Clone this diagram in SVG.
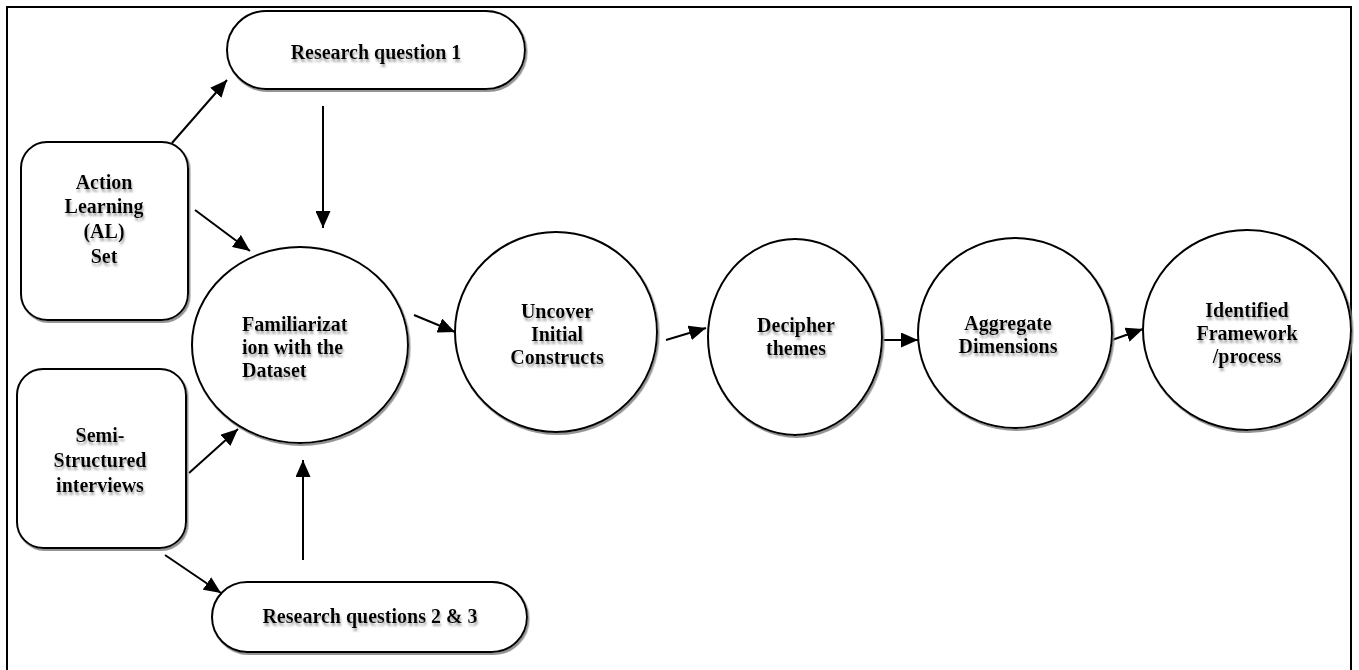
<svg xmlns="http://www.w3.org/2000/svg" width="1359" height="670" viewBox="0 0 1359 670">
<style>
.shape{fill:#fff;stroke:#000;stroke-width:2;filter:url(#sh)}
.t{font-family:"Liberation Serif","DejaVu Serif",serif;font-weight:bold;font-size:20px;fill:#000;text-anchor:middle;filter:url(#tsh)}
.l{text-anchor:start}
.c{stroke:#000;stroke-width:2;fill:none;marker-end:url(#ah)}
</style>
<defs>
<filter id="sh" x="-10%" y="-10%" width="125%" height="125%">
<feDropShadow dx="1.5" dy="2" stdDeviation="0.6" flood-color="#888" flood-opacity="0.9"/>
</filter>
<filter id="tsh" x="-10%" y="-20%" width="125%" height="160%">
<feDropShadow dx="1" dy="3" stdDeviation="0.8" flood-color="#999" flood-opacity="0.85"/>
</filter>
<marker id="ah" markerUnits="userSpaceOnUse" markerWidth="18" markerHeight="15" refX="17" refY="7.5" orient="auto">
<path d="M0,0 L17,7.5 L0,15 z" fill="#000"/>
</marker>
</defs>
<rect x="7" y="7" width="1344" height="690" fill="#fff" stroke="#000" stroke-width="2"/>
<g id="connectors">
<line class="c" x1="172" y1="143" x2="227" y2="80"/>
<line class="c" x1="323" y1="106" x2="323" y2="228"/>
<line class="c" x1="195" y1="210" x2="250" y2="251"/>
<line class="c" x1="189" y1="473" x2="238" y2="429"/>
<line class="c" x1="165" y1="555" x2="221" y2="593"/>
<line class="c" x1="303" y1="560" x2="303" y2="460"/>
<line class="c" x1="414" y1="315" x2="455" y2="332"/>
<line class="c" x1="666" y1="340" x2="706" y2="328"/>
<line class="c" x1="883" y1="340" x2="918" y2="340"/>
<line class="c" x1="1112" y1="340" x2="1143" y2="329"/>
</g>
<g id="rq1">
<rect class="shape" x="227" y="11" width="298" height="78" rx="39" ry="39"/>
<text class="t" x="376" y="59">Research question 1</text>
</g>
<g id="al">
<rect class="shape" x="21" y="142" width="167" height="178" rx="26" ry="26"/>
<text class="t" x="104" y="189">Action</text>
<text class="t" x="104" y="213">Learning</text>
<text class="t" x="104" y="238">(AL)</text>
<text class="t" x="104" y="263">Set</text>
</g>
<g id="semi">
<rect class="shape" x="17" y="369" width="169" height="179" rx="26" ry="26"/>
<text class="t" x="100" y="442">Semi-</text>
<text class="t" x="100" y="467">Structured</text>
<text class="t" x="100" y="492">interviews</text>
</g>
<g id="rq2">
<rect class="shape" x="212" y="582" width="315" height="70" rx="35" ry="35"/>
<text class="t" x="370" y="623">Research questions 2 &amp; 3</text>
</g>
<g id="fam">
<ellipse class="shape" cx="300" cy="345" rx="108" ry="98"/>
<text class="t l" x="242" y="331">Familiarizat</text>
<text class="t l" x="242" y="354">ion with the</text>
<text class="t l" x="242" y="377">Dataset</text>
</g>
<g id="uncover">
<ellipse class="shape" cx="556" cy="332" rx="101" ry="100"/>
<text class="t" x="557" y="318">Uncover</text>
<text class="t" x="557" y="341">Initial</text>
<text class="t" x="557" y="364">Constructs</text>
</g>
<g id="decipher">
<ellipse class="shape" cx="795" cy="337" rx="87" ry="98"/>
<text class="t" x="796" y="332">Decipher</text>
<text class="t" x="796" y="355">themes</text>
</g>
<g id="aggregate">
<ellipse class="shape" cx="1015" cy="333" rx="97" ry="95"/>
<text class="t" x="1008" y="330">Aggregate</text>
<text class="t" x="1008" y="353">Dimensions</text>
</g>
<g id="identified">
<ellipse class="shape" cx="1247" cy="330" rx="104" ry="100"/>
<text class="t" x="1247" y="317">Identified</text>
<text class="t" x="1247" y="340">Framework</text>
<text class="t" x="1247" y="363">/process</text>
</g>
</svg>
